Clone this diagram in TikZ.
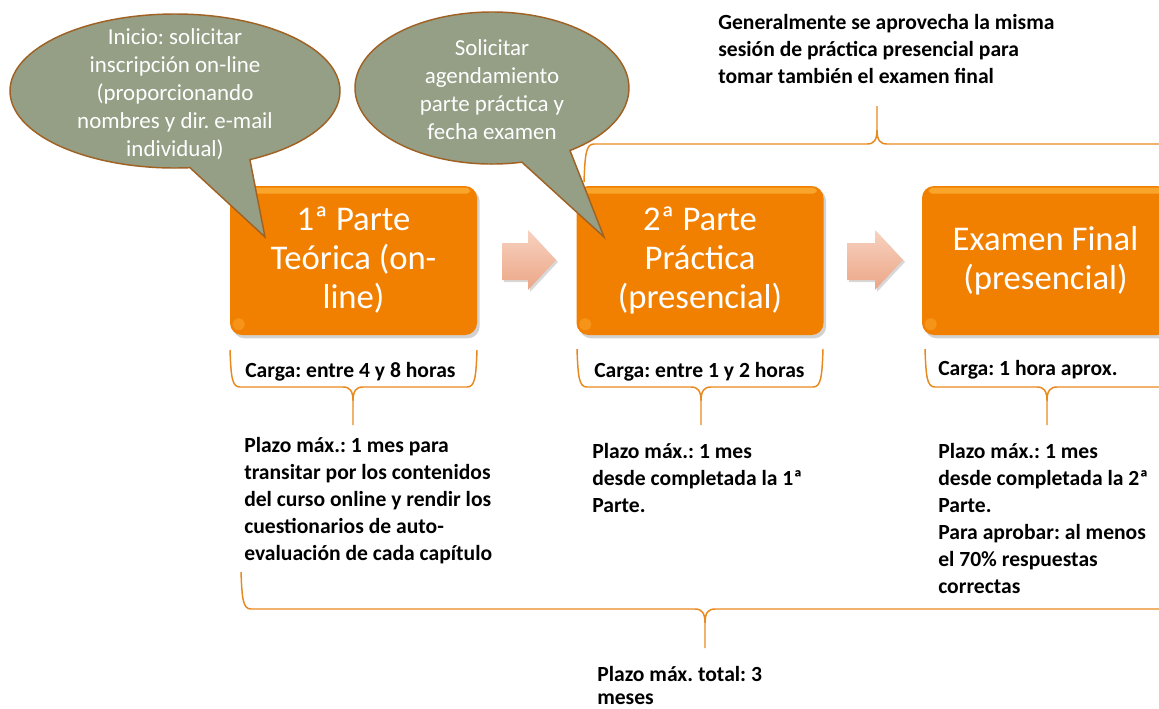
\documentclass[tikz,border=0pt]{standalone}
\usepackage{fontspec}
\setmainfont{Carlito}
\frenchspacing
\usetikzlibrary{calc,shadows}
\definecolor{boxorange}{RGB}{242,128,0}
\definecolor{boxhi}{RGB}{255,196,80}
\definecolor{callfill}{RGB}{148,159,134}
\definecolor{callline}{RGB}{160,98,36}
\definecolor{bracec}{RGB}{232,137,30}
\definecolor{arrtop}{RGB}{247,210,192}
\definecolor{arrbot}{RGB}{236,166,134}
\newcommand\bbrace[6]{%
\draw[bracestyle] (#1,#3) .. controls (#1+1,#4-10) and (#1+2,#4) .. (#1+10,#4) -- (#5-10,#4)
 .. controls (#5-3,#4) and (#5,#4+4) .. (#5,#4+14) -- (#5,#6)
 (#5,#4+14) .. controls (#5,#4+4) and (#5+3,#4) .. (#5+10,#4) -- (#2-10,#4)
 .. controls (#2-2,#4) and (#2-1,#4-10) .. (#2,#3);}
\tikzset{
 box/.style={rounded corners=9pt, fill=boxorange, minimum width=185.25pt, minimum height=111.75pt,
   inner sep=0pt, text=white, align=center, font=\fontsize{26}{29.25}\selectfont,
   drop shadow={opacity=0.35, shadow xshift=2pt, shadow yshift=-2.5pt}},
 callout/.style={fill=callfill, draw=callline, line width=1.1pt, line join=miter},
 calltext/.style={text=white, align=center, inner sep=0pt, font=\fontsize{17.2}{21}\selectfont},
 bracestyle/.style={draw=bracec, line width=1.1pt},
 lbl/.style={anchor=north west, align=left, inner sep=0pt, text=black,
   font=\fontsize{16.2}{20.25}\selectfont\bfseries},
 blockarrow/.style={top color=arrtop, bottom color=arrbot, draw=none,
   drop shadow={opacity=0.3, shadow xshift=1.5pt, shadow yshift=-1.5pt}},
}
\begin{document}
\begin{tikzpicture}[x=0.75pt,y=-0.75pt]
\useasboundingbox (0,0) rectangle (1159,708);
\clip (0,0) rectangle (1159,708);
\fill[white] (0,0) rectangle (1159,708);

% block arrows
\path[blockarrow] (502,243) -- (528,243) -- (528,230) -- (556,260) -- (528,290) -- (528,280) -- (502,280) -- cycle;
\path[blockarrow] (847,243) -- (875,243) -- (875,230) -- (903,260) -- (875,290) -- (875,280) -- (847,280) -- cycle;

% boxes
\node[box] (b1) at (353.5,260.5) {1ª Parte\\Teórica (on-\\line)};
\node[box] (b2) at (700,260.5) {2ª Parte\\Práctica\\(presencial)};
\node[box] (b3) at (1045.5,260.5) {Examen Final\\(presencial)};
\foreach \b in {b1,b2,b3}{
 \fill[boxhi, opacity=0.55, rounded corners=3pt] ($(\b.north west)+(7,2)$) rectangle ($(\b.north east)+(-7,8)$);
 \fill[boxhi, opacity=0.3] ($(\b.south west)+(9,-11)$) circle[radius=6];
}

% braces
\bbrace{230}{477}{350}{387}{353}{425}
\bbrace{577}{823}{349}{387}{701}{425}
\bbrace{925}{1175}{349}{387}{1047}{425}
\bbrace{241}{1200}{572}{609}{705}{648}
\draw[bracestyle] (584,182) .. controls (585,154) and (586,144) .. (594,144) -- (867,144)
 .. controls (874,144) and (877,140) .. (877,130) -- (877,106)
 (877,130) .. controls (877,140) and (880,144) .. (887,144) -- (1200,144);

% callouts
\filldraw[callout] (175,91) ++(84.8:165 and 77) arc[start angle=84.8, end angle=423, x radius=165, y radius=77] -- (265,237) -- cycle;
\filldraw[callout] (492,88) ++(77.4:137 and 76) arc[start angle=77.4, end angle=415.3, x radius=137, y radius=76] -- (604,237) -- cycle;
\node[calltext] (c1) at (175,94) {Inicio: solicitar\\inscripción on-line\\(proporcionando\\nombres y dir. e-mail\\individual)};
\node[calltext] (c2) at (492,90) {Solicitar\\agendamiento\\parte práctica y\\fecha examen};

% labels
\node[lbl] (top) at (718,14) {Generalmente se aprovecha la misma\\sesión de práctica presencial para\\tomar también el examen final};
\node[lbl] (k1) at (245,362) {Carga: entre 4 y 8 horas};
\node[lbl] (k2) at (594,362) {Carga: entre 1 y 2 horas};
\node[lbl] (k3) at (938,360) {Carga: 1 hora aprox.};
\node[lbl] (p1) at (244,437) {Plazo máx.: 1 mes para\\transitar por los contenidos\\del curso online y rendir los\\cuestionarios de auto-\\evaluación de cada capítulo};
\node[lbl] (p2) at (592,443) {Plazo máx.: 1 mes\\desde completada la 1ª\\Parte.};
\node[lbl] (p3) at (938,443) {Plazo máx.: 1 mes\\desde completada la 2ª\\Parte.\\Para aprobar: al menos\\el 70\% respuestas\\correctas};
\node[lbl, font=\fontsize{16.2}{17.5}\selectfont\bfseries] (tot) at (597,666) {Plazo máx. total: 3\\meses};
\end{tikzpicture}
\end{document}
